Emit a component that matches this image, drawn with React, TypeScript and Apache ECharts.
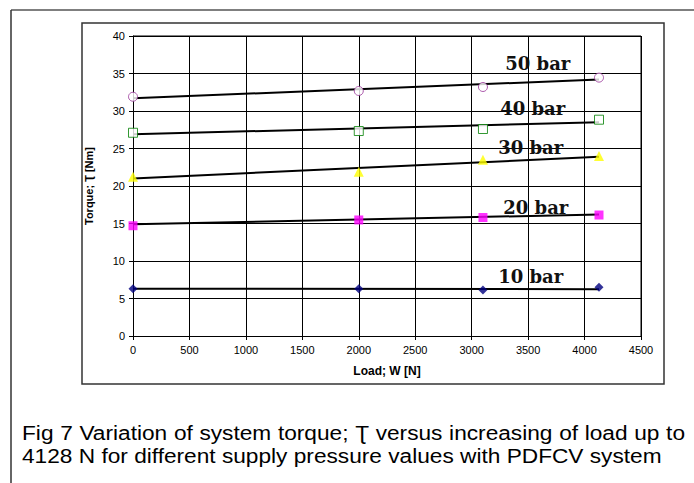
import React, { useEffect, useRef } from "react";
import * as echarts from "echarts";

const loads = [0, 2000, 3100, 4128];
const seriesNames = ["10 bar", "20 bar", "30 bar", "40 bar", "50 bar"];
const torque10 = [6.3, 6.3, 6.13, 6.49];
const torque20 = [14.7, 15.47, 15.8, 16.13];
const torque30 = [21.25, 21.9, 23.5, 24.0];
const torque40 = [27.1, 27.33, 27.6, 28.84];
const torque50 = [31.9, 32.67, 33.2, 34.45];
const trendX = [0, 4128];
const trend10 = [6.3, 6.25];
const trend20 = [14.9, 16.2];
const trend30 = [21.0, 23.9];
const trend40 = [26.9, 28.5];
const trend50 = [31.7, 34.2];
const labelPos: [number, number][] = [
  [3523, 7.9],
  [3568, 17.2],
  [3523, 25.2],
  [3541, 30.4],
  [3586, 36.3],
];
const xTicks = { min: 0, max: 4500, interval: 500 };
const yTicks = { min: 0, max: 40, interval: 5 };
const captionLines = [
  "Fig 7 Variation of system torque; \u01AE versus increasing of load up to",
  "4128 N for different supply pressure values with PDFCV system",
];

const markerStyles = [
  { symbol: "diamond", symbolSize: 9, itemStyle: { color: "#000080" } },
  { symbol: "rect", symbolSize: 9, itemStyle: { color: "#FF00FF" } },
  { symbol: "triangle", symbolSize: 10, itemStyle: { color: "#FFFF00" } },
  { symbol: "rect", symbolSize: 9, itemStyle: { color: "#ffffff", borderColor: "#008000", borderWidth: 1 } },
  { symbol: "circle", symbolSize: 9, itemStyle: { color: "#ffffff", borderColor: "#993399", borderWidth: 1 } },
];

const CAPTION_FONT_SIZE = 21;
const CAPTION_SCALE_X = 1.08;
const CAPTION_FONT = `${CAPTION_FONT_SIZE}px "Liberation Sans"`;

function measure(text: string): number {
  const ctx = document.createElement("canvas").getContext("2d");
  if (!ctx) return text.length * CAPTION_FONT_SIZE * 0.5;
  ctx.font = CAPTION_FONT;
  return ctx.measureText(text).width * CAPTION_SCALE_X;
}

function justifiedLine(text: string, x0: number, x1: number, y: number): any[] {
  const words = text.split(" ");
  const widths = words.map(measure);
  const total = widths.reduce((a, b) => a + b, 0);
  const gap = (x1 - x0 - total) / (words.length - 1);
  const els: any[] = [];
  let x = x0;
  words.forEach((w, i) => {
    els.push({
      type: "text",
      x,
      y,
      scaleX: CAPTION_SCALE_X,
      style: { text: w, font: CAPTION_FONT, fill: "#000", verticalAlign: "middle" },
    });
    x += widths[i] + gap;
  });
  return els;
}

export default function App() {
  const ref = useRef<HTMLDivElement>(null);
  useEffect(() => {
    if (!ref.current) return;
    const chart = echarts.init(ref.current, null, { renderer: "svg" });
    const points = [torque10, torque20, torque30, torque40, torque50];
    const trends = [trend10, trend20, trend30, trend40, trend50];
    const series: any[] = [];
    trends.forEach((t, i) => {
      series.push({
        type: "line",
        name: seriesNames[i] + " trend",
        data: trendX.map((x, j) => [x, t[j]]),
        showSymbol: false,
        lineStyle: { color: "#000", width: 2 },
        z: 3,
        silent: true,
        markPoint: {
          symbol: "circle",
          symbolSize: 0,
          data: [{ coord: labelPos[i], value: seriesNames[i] }],
          label: {
            show: true,
            formatter: seriesNames[i],
            fontFamily: "DejaVu Serif",
            fontWeight: "bold",
            fontSize: 18,
            color: "#111",
          },
        },
      });
    });
    points.forEach((p, i) => {
      series.push({
        type: "scatter",
        name: seriesNames[i],
        data: loads.map((x, j) => [x, p[j]]),
        ...markerStyles[i],
        z: 4,
      });
    });
    chart.setOption({
      animation: false,
      backgroundColor: "#ffffff",
      grid: { left: 133, top: 36, right: 53, bottom: 147, containLabel: false },
      xAxis: {
        type: "value",
        ...xTicks,
        name: "Load; W [N]",
        nameLocation: "middle",
        nameGap: 29,
        nameTextStyle: { fontFamily: "Liberation Sans", fontWeight: "bold", fontSize: 12, color: "#000" },
        axisLine: { show: true, onZero: false, lineStyle: { color: "#000", width: 1 } },
        axisTick: { show: true, length: 4, lineStyle: { color: "#000" } },
        axisLabel: { fontFamily: "Liberation Sans", fontSize: 11, color: "#000", margin: 8, formatter: (v: number) => String(v) },
        splitLine: { show: true, lineStyle: { color: "#000", width: 1 } },
      },
      yAxis: {
        type: "value",
        ...yTicks,
        name: "Torque; \u01AE [Nm]",
        nameLocation: "middle",
        nameGap: 39,
        nameRotate: 90,
        nameTextStyle: { fontFamily: "Liberation Sans", fontWeight: "bold", fontSize: 11, color: "#000" },
        axisLine: { show: true, lineStyle: { color: "#000", width: 1 } },
        axisTick: { show: true, length: 4, lineStyle: { color: "#000" } },
        axisLabel: { fontFamily: "Liberation Sans", fontSize: 11, color: "#000", margin: 8, formatter: (v: number) => String(v) },
        splitLine: { show: true, lineStyle: { color: "#000", width: 1 } },
      },
      graphic: [
        { type: "line", shape: { x1: 11, y1: 10, x2: 694, y2: 10 }, style: { stroke: "#555", lineWidth: 1.5 } },
        { type: "line", shape: { x1: 11, y1: 10, x2: 11, y2: 483 }, style: { stroke: "#333", lineWidth: 1.5 } },
        { type: "rect", shape: { x: 82, y: 23, width: 582, height: 361 }, style: { fill: "none", stroke: "#333", lineWidth: 1.5 } },
        { type: "line", shape: { x1: 641, y1: 36, x2: 641, y2: 336 }, style: { stroke: "#000", lineWidth: 1 } },
        { type: "line", shape: { x1: 133, y1: 36, x2: 641, y2: 36 }, style: { stroke: "#000", lineWidth: 1 } },
        ...justifiedLine(captionLines[0], 22, 685, 433),
        {
          type: "text",
          x: 22,
          y: 456,
          scaleX: CAPTION_SCALE_X,
          style: { text: captionLines[1], font: CAPTION_FONT, fill: "#000", verticalAlign: "middle" },
        },
      ],
      series,
    });
    return () => chart.dispose();
  }, []);
  return <div ref={ref} style={{ width: 694, height: 483, position: "absolute", left: 0, top: 0 }} />;
}
